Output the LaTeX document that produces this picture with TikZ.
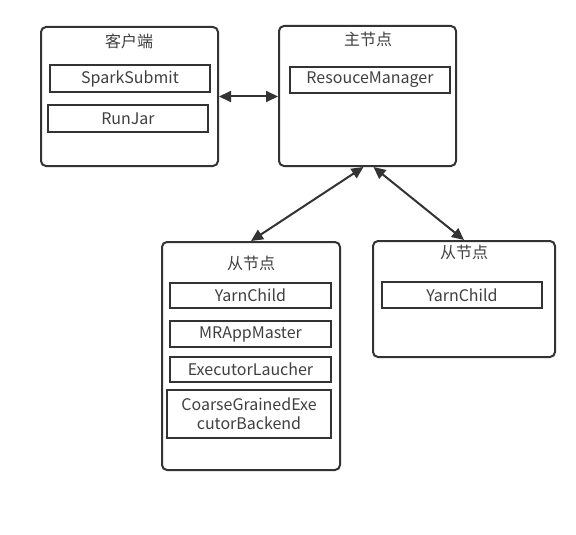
\documentclass[tikz,border=0pt]{standalone}
\usepackage{fontspec}
\setmainfont{Noto Sans CJK SC}
\usepackage{xcolor}
\usetikzlibrary{positioning}
\usetikzlibrary{arrows.meta}
\definecolor{lineclr}{HTML}{333333}
\definecolor{txtclr}{HTML}{404040}

\begin{document}
\begin{tikzpicture}
    [
    x=1pt,y=-1pt,
    host/.style={draw=lineclr,line width=2pt,rounded corners=5pt,inner sep=0pt},
    proc/.style={draw=lineclr,line width=2pt,inner sep=0pt,text=txtclr,align=center,
      font=\fontsize{16}{19}\selectfont,minimum width=160pt,minimum height=26pt},
    title/.style={text=txtclr,inner sep=0pt,font=\fontsize{16}{19}\selectfont},
    link/.style={{Triangle[length=12pt,width=11pt]}-{Triangle[length=12pt,width=11pt]},
      draw=lineclr,fill=lineclr,line width=2pt},
    ]
    \useasboundingbox (0,0) rectangle (576,535);
    \fill[white] (0,0) rectangle (576,535);

    % hosts
    \node (client) at (129.5,96.5) [host, minimum width=177pt, minimum height=139pt] {};
    \node (master) at (367.5,96) [host, minimum width=177pt, minimum height=140pt] {};
    \node (slave1) at (251,356) [host, minimum width=178pt, minimum height=228pt] {};
    \node (slave2) at (464,299) [host, minimum width=182pt, minimum height=116pt] {};

    \node (t1) at (129,41) [title] {客户端};
    \node (t2) at (368,39) [title] {主节点};
    \node (t3) at (251,263) [title] {从节点};
    \node (t4) at (464,252) [title] {从节点};

    % processes
    \node (submit) at (130,78.5) [proc, minimum height=27pt] {SparkSubmit};
    \node (runjar) at (128,118.5) [proc, minimum height=27pt] {RunJar};
    \node (rm) at (370,80) [proc] {ResouceManager};
    \node (yc1) at (250.5,295.5) [proc, minimum width=161pt, minimum height=25pt] {YarnChild};
    \node (mram) at (250.5,334) [proc, minimum width=161pt] {MRAppMaster};
    \node (exl) at (250.5,369.5) [proc, minimum width=161pt, minimum height=25pt] {ExecutorLaucher};
    \node (cgeb) at (249,414) [proc, minimum width=164pt, minimum height=48pt] {CoarseGrainedExe\\cutorBackend};
    \node (yc2) at (462,295) [proc] {YarnChild};

    \draw [link] (client.east) to (client.east -| master.west);
    \draw [link] ([xshift=-4pt]master.south) to (slave1.north);
    \draw [link] ([xshift=6pt]master.south) to (slave2.north);
  \end{tikzpicture}
\end{document}
